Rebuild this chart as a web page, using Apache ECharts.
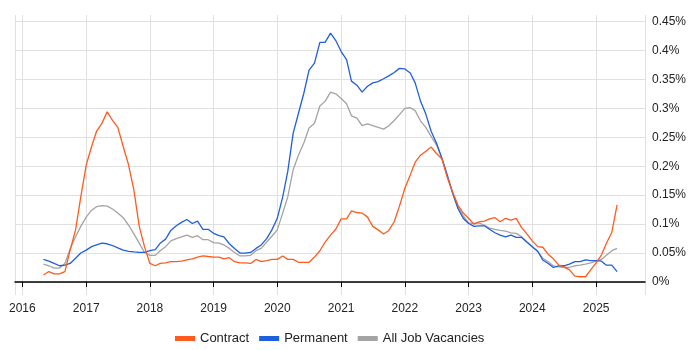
<!DOCTYPE html>
<html>
<head>
<meta charset="utf-8">
<script src="https://cdn.jsdelivr.net/npm/echarts@6/dist/echarts.min.js"></script>
<style>html,body{margin:0;padding:0;background:#fff}#c{width:700px;height:350px}</style>
</head>
<body>
<div id="c"></div>
<script>
// Monthly observations from 2016-05 to 2025-05
const startYear = 2016, startMonth = 5, monthCount = 109;
const months = [];
for (let i = 0; i < monthCount; i++) {
  const m = startMonth - 1 + i;
  const y = startYear + Math.floor(m / 12);
  const mm = (m % 12) + 1;
  months.push(y + '-' + (mm < 10 ? '0' + mm : mm) + '-01');
}

const contract = [
  0.012,0.018,0.014,0.014,0.018,0.055,0.090,0.147,0.202,0.234,0.260,0.274,
  0.294,0.279,0.267,0.234,0.202,0.159,0.096,0.061,0.032,0.028,0.032,0.033,
  0.035,0.035,0.036,0.038,0.040,0.043,0.045,0.044,0.043,0.043,0.040,0.042,
  0.035,0.033,0.033,0.032,0.039,0.035,0.037,0.039,0.039,0.045,0.039,0.039,
  0.034,0.034,0.034,0.043,0.054,0.069,0.081,0.091,0.109,0.109,0.123,0.120,
  0.119,0.112,0.096,0.090,0.083,0.089,0.104,0.131,0.162,0.185,0.207,0.219,
  0.226,0.233,0.222,0.213,0.181,0.156,0.133,0.119,0.110,0.100,0.104,0.105,
  0.109,0.111,0.104,0.110,0.107,0.110,0.094,0.083,0.071,0.061,0.060,0.048,
  0.040,0.029,0.026,0.021,0.010,0.009,0.009,0.021,0.033,0.047,0.067,0.086,
  0.133
];
const permanent = [
  0.039,0.036,0.032,0.028,0.029,0.032,0.041,0.050,0.055,0.061,0.064,0.067,
  0.066,0.063,0.059,0.055,0.053,0.052,0.051,0.051,0.054,0.056,0.067,0.074,
  0.089,0.097,0.103,0.108,0.101,0.105,0.091,0.091,0.084,0.080,0.078,0.066,
  0.058,0.050,0.050,0.051,0.058,0.064,0.075,0.090,0.110,0.147,0.191,0.257,
  0.291,0.326,0.366,0.378,0.414,0.414,0.430,0.417,0.398,0.384,0.347,0.340,
  0.328,0.338,0.344,0.346,0.351,0.356,0.362,0.369,0.368,0.361,0.344,0.312,
  0.290,0.260,0.240,0.214,0.185,0.154,0.127,0.110,0.101,0.096,0.097,0.097,
  0.091,0.085,0.081,0.078,0.081,0.077,0.077,0.069,0.061,0.053,0.038,0.032,
  0.025,0.028,0.028,0.031,0.035,0.035,0.038,0.037,0.037,0.036,0.029,0.029,
  0.018
];
const allJobs = [
  0.031,0.028,0.024,0.024,0.032,0.057,0.078,0.096,0.112,0.124,0.130,0.132,
  0.131,0.126,0.119,0.111,0.098,0.083,0.067,0.051,0.046,0.046,0.054,0.061,
  0.071,0.075,0.078,0.081,0.077,0.080,0.073,0.073,0.068,0.067,0.064,0.058,
  0.051,0.045,0.045,0.046,0.054,0.058,0.069,0.079,0.090,0.119,0.147,0.194,
  0.219,0.240,0.266,0.274,0.304,0.312,0.328,0.325,0.317,0.308,0.287,0.283,
  0.270,0.273,0.270,0.267,0.264,0.270,0.279,0.289,0.300,0.301,0.296,0.278,
  0.267,0.251,0.237,0.214,0.182,0.154,0.130,0.114,0.102,0.101,0.102,0.098,
  0.093,0.091,0.089,0.088,0.085,0.084,0.078,0.069,0.061,0.053,0.041,0.035,
  0.028,0.026,0.025,0.025,0.028,0.029,0.031,0.033,0.036,0.039,0.046,0.054,
  0.058
];
const seriesNames = ['Contract', 'Permanent', 'All Job Vacancies'];
const seriesColors = ['#ff5b1f', '#1f5fdf', '#a3a3a3'];

function pairs(vals) { return vals.map((v, i) => [months[i], v]); }

const chart = echarts.init(document.getElementById('c'), null, {renderer: 'canvas'});
const YEAR = 365 * 24 * 3600 * 1000;
chart.setOption({
  animation: false,
  backgroundColor: '#fff',
  textStyle: {fontFamily: 'Arial, "Liberation Sans", sans-serif'},
  grid: {left: 15, right: 55, top: 15, bottom: 55},
  legend: {
    data: seriesNames, left: 170, top: 327,
    icon: 'rect', itemWidth: 20, itemHeight: 5, itemGap: 10,
    textStyle: {fontSize: 13, color: '#222'}
  },
  xAxis: {
    type: 'time',
    min: '2015-11-20', max: '2025-10-08',
    splitNumber: 10, minInterval: YEAR, maxInterval: YEAR,
    axisLine: {lineStyle: {color: '#000', width: 1.5}},
    axisTick: {show: true, length: 5, lineStyle: {color: '#000'}},
    axisLabel: {formatter: '{yyyy}', fontSize: 12, color: '#222', margin: 8,
                showMinLabel: false, showMaxLabel: false},
    splitLine: {show: true, lineStyle: {color: '#e0e0e0'}}
  },
  yAxis: {
    type: 'value', position: 'right',
    min: -0.0225, max: 0.4612, splitNumber: 10,
    axisLine: {show: false}, axisTick: {show: false},
    axisLabel: {fontSize: 12, color: '#222', margin: 7,
                showMinLabel: false, showMaxLabel: false,
                formatter: v => parseFloat(v.toFixed(4)) + '%'},
    splitLine: {show: true, showMinLine: false, showMaxLine: false,
                lineStyle: {color: '#e0e0e0'}}
  },
  series: [contract, permanent, allJobs].map((vals, k) => ({
    name: seriesNames[k], type: 'line', data: pairs(vals),
    showSymbol: false, symbol: 'none',
    lineStyle: {width: 1.3, color: seriesColors[k]},
    itemStyle: {color: seriesColors[k]},
    z: 3 - k
  }))
});
</script>
</body>
</html>
